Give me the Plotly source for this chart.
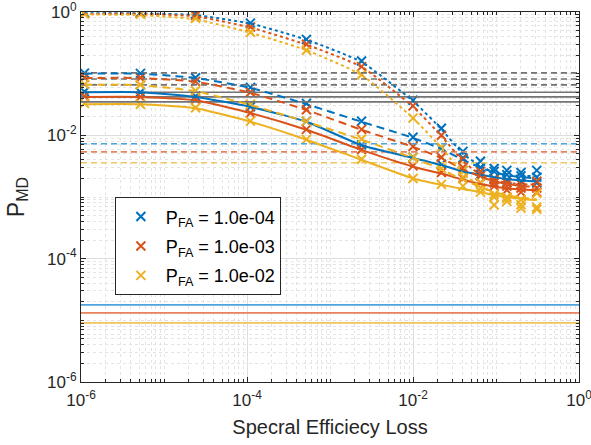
import plotly.graph_objects as go

# ---------------- data ----------------
x_loss = [1.1e-6, 5.2e-6, 2.4e-5, 1.1e-4, 5.2e-4, 2.4e-3, 1.0e-2, 2.2e-2,
          4.0e-2, 6.5e-2, 9.5e-2, 1.35e-1, 2.0e-1, 3.1e-1]

pfa_labels = ["P<sub>FA</sub> = 1.0e-04", "P<sub>FA</sub> = 1.0e-03", "P<sub>FA</sub> = 1.0e-02"]

# theory curves (lines)
blue_dotted = [0.95, 0.95, 0.89, 0.65, 0.355, 0.155, 0.036, 0.0126, 0.0050, 0.0032, 0.0025, 0.0023, 0.0022, 0.0022]
orange_dotted = [0.93, 0.93, 0.85, 0.56, 0.295, 0.129, 0.029, 0.0098, 0.0038, 0.0023, 0.00186, 0.0017, 0.00162, 0.00158]
yellow_dotted = [0.91, 0.89, 0.76, 0.46, 0.24, 0.095, 0.019, 0.0063, 0.0024, 0.00148, 0.00117, 0.00105, 0.00095, 0.00091]

blue_dashed = [0.100, 0.100, 0.085, 0.059, 0.032, 0.0166, 0.0091, 0.0060, 0.0040, 0.0030, 0.0025, 0.00224, 0.0021, 0.0020]
orange_dashed = [0.085, 0.085, 0.074, 0.049, 0.0257, 0.0123, 0.0065, 0.0043, 0.0028, 0.00214, 0.0018, 0.00162, 0.00151, 0.00145]
yellow_dashed = [0.066, 0.065, 0.052, 0.031, 0.0166, 0.0085, 0.0043, 0.0028, 0.0019, 0.00145, 0.0012, 0.00107, 0.00098, 0.00091]

blue_solid = [0.050, 0.050, 0.042, 0.029, 0.0166, 0.0069, 0.0043, 0.0033, 0.0026, 0.0023, 0.0021, 0.00195, 0.00186, 0.00178]
orange_solid = [0.042, 0.042, 0.037, 0.023, 0.0123, 0.0058, 0.0031, 0.0024, 0.0019, 0.00162, 0.00148, 0.00138, 0.00132, 0.00129]
yellow_solid = [0.032, 0.032, 0.0275, 0.0166, 0.0085, 0.0040, 0.0020, 0.00158, 0.00135, 0.0012, 0.00107, 0.0010, 0.00093, 0.00089]

# simulated points (markers)
blue_sim_dotted = [0.97, 0.97, 0.93, 0.66, 0.36, 0.16, 0.037, 0.013, 0.0055, 0.0038, 0.0029, 0.0027, 0.0025, 0.0027]
orange_sim_dotted = [0.95, 0.95, 0.88, 0.57, 0.30, 0.13, 0.030, 0.0100, 0.0041, 0.0026, 0.0019, 0.0017, 0.0016, 0.0018]
yellow_sim_dotted = [0.93, 0.92, 0.79, 0.47, 0.24, 0.096, 0.019, 0.0064, 0.0027, 0.0017, 0.0011, 0.0010, 0.0009, 0.00115]

blue_sim_dashed = [0.102, 0.101, 0.086, 0.060, 0.033, 0.017, 0.0093, 0.0062, 0.0043, 0.0030, 0.0026, 0.0023, 0.0022, 0.0021]
orange_sim_dashed = [0.087, 0.086, 0.075, 0.050, 0.026, 0.0125, 0.0066, 0.0044, 0.0030, 0.0022, 0.0017, 0.0015, 0.0014, 0.0014]
yellow_sim_dashed = [0.067, 0.066, 0.053, 0.032, 0.017, 0.0087, 0.0044, 0.0029, 0.0021, 0.0014, 0.00074, 0.00095, 0.00075, 0.00068]

blue_sim_solid = [0.051, 0.050, 0.043, 0.029, 0.017, 0.0070, 0.0044, 0.0034, 0.0027, 0.0023, 0.0020, 0.0019, 0.0018, 0.0017]
orange_sim_solid = [0.043, 0.042, 0.038, 0.023, 0.0125, 0.0059, 0.0032, 0.0025, 0.0020, 0.0017, 0.0015, 0.0013, 0.0012, 0.0012]
yellow_sim_solid = [0.033, 0.032, 0.028, 0.017, 0.0086, 0.0041, 0.0020, 0.0016, 0.0015, 0.0012, 0.0010, 0.00085, 0.00066, 0.00063]

# horizontal reference levels
gray_dashed_levels = [0.103, 0.082, 0.066]
gray_solid_levels = [0.050, 0.042, 0.035]
color_dashed_levels = [7.3e-3, 5.4e-3, 3.6e-3]
color_solid_levels = [1.78e-5, 1.32e-5, 0.91e-5]

x_span = [1e-6, 1.0]

# ---------------- style ----------------
colors = ["#0072BD", "#D95319", "#EDB120"]
light_colors = ["#4DA3DE", "#E8825A", "#F2C65E"]
FONT = "Liberation Sans, Arial, Helvetica, sans-serif"

fig = go.Figure()

sims = [
    (blue_sim_dotted, blue_sim_dashed, blue_sim_solid),
    (orange_sim_dotted, orange_sim_dashed, orange_sim_solid),
    (yellow_sim_dotted, yellow_sim_dashed, yellow_sim_solid),
]
lines = [
    (blue_dotted, blue_dashed, blue_solid),
    (orange_dotted, orange_dashed, orange_solid),
    (yellow_dotted, yellow_dashed, yellow_solid),
]

# marker series (legend entries)
for i in range(3):
    xs, ys = [], []
    for s in sims[i]:
        xs += x_loss + [None]
        ys += s + [None]
    fig.add_trace(go.Scatter(
        x=xs, y=ys, mode="markers", name=pfa_labels[i], legendgroup="g%d" % i,
        marker=dict(symbol="x-thin", size=9, color=colors[i],
                    line=dict(width=2, color=colors[i])),
    ))

# horizontal lines
for lvl in gray_dashed_levels:
    fig.add_trace(go.Scatter(x=x_span, y=[lvl, lvl], mode="lines", showlegend=False,
                             line=dict(color="#737373", width=1.7, dash="6px,4px")))
for lvl in gray_solid_levels:
    fig.add_trace(go.Scatter(x=x_span, y=[lvl, lvl], mode="lines", showlegend=False,
                             line=dict(color="#737373", width=1.7)))
for i, lvl in enumerate(color_dashed_levels):
    fig.add_trace(go.Scatter(x=x_span, y=[lvl, lvl], mode="lines", showlegend=False,
                             line=dict(color=light_colors[i], width=1.6, dash="6px,4px")))
for i, lvl in enumerate(color_solid_levels):
    fig.add_trace(go.Scatter(x=x_span, y=[lvl, lvl], mode="lines", showlegend=False,
                             line=dict(color=light_colors[i], width=1.6)))

# theory curves
dash_styles = ["dot", "8px,5px", "solid"]
for i in range(3):
    for k in range(3):
        fig.add_trace(go.Scatter(
            x=x_loss, y=lines[i][k], mode="lines", showlegend=False,
            line=dict(color=colors[i], width=2, dash=dash_styles[k], shape="spline", smoothing=0.5),
        ))

minor_vals = [m * 10.0 ** e for e in range(-6, 0) for m in range(1, 10)]

axis_common = dict(
    type="log", range=[-6, 0], automargin=False, ticklabeloverflow="allow",
    showline=True, linecolor="#262626", linewidth=1, mirror="ticks",
    ticks="inside", ticklen=5, tickcolor="#262626",
    showgrid=True, gridcolor="#dedede", gridwidth=1,
    zeroline=False,
    tickfont=dict(family=FONT, size=17, color="#262626"),
    minor=dict(tickmode="array", tickvals=minor_vals, ticks="inside", ticklen=3,
               tickcolor="#262626", showgrid=True, gridcolor="#e4e4e4", griddash="dot", gridwidth=1),
)

fig.update_layout(
    width=591, height=445,
    margin=dict(l=81, r=12, t=12, b=63),
    paper_bgcolor="white", plot_bgcolor="white",
    font=dict(family=FONT, color="#262626"),
    xaxis=dict(**axis_common,
               tickmode="array", tickvals=[1e-6, 1e-4, 1e-2, 1],
               ticktext=["10<sup>-6</sup>", "10<sup>-4</sup>", "10<sup>-2</sup>", "10<sup>0</sup>"],
               ticklabelstandoff=3,
               title=dict(text="Specral Efficiecy Loss", font=dict(family=FONT, size=20, color="#262626"),
                          standoff=10)),
    yaxis=dict(**axis_common,
               tickmode="array", tickvals=[1e-6, 1e-4, 1e-2, 1],
               ticktext=["10<sup>-6</sup>", "10<sup>-4</sup>", "10<sup>-2</sup>", "10<sup>0</sup>"],
               ticklabelstandoff=0,
               title=dict(text="P<sub>MD</sub>", font=dict(family=FONT, size=23, color="#262626"),
                          standoff=16)),
    legend=dict(x=0.068, y=0.499, xanchor="left", yanchor="top",
                bgcolor="white", bordercolor="#262626", borderwidth=1,
                font=dict(family=FONT, size=18, color="#000000"),
                itemwidth=40, tracegroupgap=3),
    showlegend=True,
)

fig.write_html("out.html", config={"displayModeBar": False},
               post_script="document.body.style.margin='0px';document.body.style.overflow='hidden';")
